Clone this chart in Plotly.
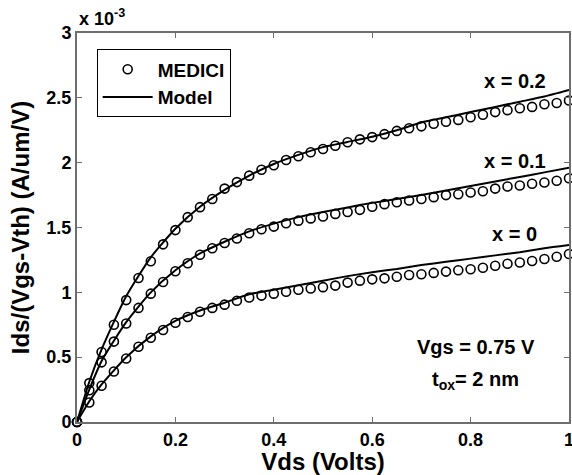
import plotly.graph_objects as go

# Drain voltage grid for MEDICI simulation points (V)
vds_medici = [i * 0.025 for i in range(41)]

# MEDICI simulation results, Ids/(Vgs-Vth) in units of 1e-3 A/um/V
medici_x02 = [0, 0.30, 0.54, 0.75, 0.94, 1.11, 1.24, 1.37, 1.48, 1.58, 1.657,
              1.72, 1.80, 1.85, 1.90, 1.945, 1.98, 2.02, 2.05, 2.08, 2.105,
              2.13, 2.157, 2.18, 2.197, 2.22, 2.245, 2.265, 2.28, 2.30, 2.315,
              2.33, 2.35, 2.37, 2.39, 2.405, 2.42, 2.43, 2.45, 2.46, 2.48]
medici_x01 = [0, 0.245, 0.46, 0.62, 0.76, 0.88, 0.99, 1.08, 1.163, 1.224, 1.29,
              1.34, 1.38, 1.415, 1.456, 1.487, 1.507, 1.533, 1.553, 1.57, 1.585,
              1.605, 1.62, 1.636, 1.66, 1.68, 1.695, 1.708, 1.72, 1.734, 1.75,
              1.757, 1.77, 1.78, 1.80, 1.816, 1.824, 1.837, 1.847, 1.86, 1.88]
medici_x00 = [0, 0.15, 0.28, 0.39, 0.49, 0.58, 0.65, 0.71, 0.765, 0.81, 0.85,
              0.88, 0.905, 0.935, 0.96, 0.975, 0.99, 1.005, 1.02, 1.03, 1.04,
              1.052, 1.075, 1.09, 1.10, 1.108, 1.12, 1.134, 1.14, 1.15, 1.16,
              1.17, 1.178, 1.19, 1.205, 1.22, 1.23, 1.242, 1.257, 1.275, 1.296]

# Model curves (V, 1e-3 A/um/V)
vds_model = [0, 0.025, 0.05, 0.1, 0.15, 0.2, 0.25, 0.3, 0.35, 0.4, 0.45, 0.5,
             0.55, 0.6, 0.65, 0.7, 0.75, 0.8, 0.85, 0.9, 0.95, 1.0]
model_x02 = [0, 0.31, 0.56, 0.97, 1.27, 1.49, 1.66, 1.79, 1.90, 1.99, 2.06, 2.12,
             2.16, 2.20, 2.25, 2.31, 2.35, 2.39, 2.43, 2.47, 2.51, 2.56]
model_x01 = [0, 0.25, 0.47, 0.77, 1.00, 1.17, 1.30, 1.39, 1.47, 1.53, 1.58, 1.62,
             1.655, 1.69, 1.72, 1.75, 1.785, 1.82, 1.855, 1.89, 1.925, 1.96]
model_x00 = [0, 0.16, 0.29, 0.50, 0.66, 0.78, 0.86, 0.92, 0.985, 1.02, 1.055, 1.09,
             1.125, 1.155, 1.18, 1.21, 1.235, 1.26, 1.285, 1.31, 1.34, 1.365]

curve_labels = ["x = 0.2", "x = 0.1", "x = 0"]
label_pos_y = [2.63, 2.01, 1.45]

FONT = "Liberation Sans, Arial, sans-serif"
AXIS_GREY = "#6e6e6e"

fig = go.Figure()

for i, (med, mod) in enumerate([(medici_x02, model_x02),
                                 (medici_x01, model_x01),
                                 (medici_x00, model_x00)]):
    fig.add_trace(go.Scatter(
        x=vds_medici, y=med, mode="markers",
        marker=dict(symbol="circle-open", size=9, color="black",
                    line=dict(width=1.6, color="black")),
        name="MEDICI", showlegend=(i == 0), legendrank=1,
        cliponaxis=False))
    fig.add_trace(go.Scatter(
        x=vds_model, y=mod, mode="lines",
        line=dict(color="black", width=2, shape="spline", smoothing=0.6),
        name="Model", showlegend=(i == 0), legendrank=2))

for lab, ly in zip(curve_labels, label_pos_y):
    fig.add_annotation(x=0.89, y=ly, text=lab, showarrow=False,
                       font=dict(family=FONT, size=20, color="black", weight="bold"),
                       xanchor="center", yanchor="middle")

fig.add_annotation(x=0.81, y=0.58, text="Vgs = 0.75 V", showarrow=False,
                   font=dict(family=FONT, size=20, color="black", weight="bold"),
                   xanchor="center", yanchor="middle")
fig.add_annotation(x=0.81, y=0.32, text="t<sub>ox</sub>= 2 nm", showarrow=False,
                   font=dict(family=FONT, size=20, color="black", weight="bold"),
                   xanchor="center", yanchor="middle")
fig.add_annotation(xref="paper", yref="paper", x=0.0, y=1.0,
                   text="x 10<sup>-3</sup>", showarrow=False,
                   font=dict(family=FONT, size=18, color="black", weight="bold"),
                   xanchor="left", yanchor="bottom", yshift=2)

axis_common = dict(showline=True, linecolor=AXIS_GREY, linewidth=2, mirror="ticks",
                   ticks="inside", ticklen=5, tickwidth=1.2, tickcolor=AXIS_GREY,
                   showgrid=False, zeroline=False, automargin=False,
                   ticklabeloverflow="allow",
                   tickfont=dict(family=FONT, size=18, color="black", weight="bold"))

fig.update_xaxes(range=[0, 1], dtick=0.2, tick0=0,
                 title=dict(text="Vds (Volts)", standoff=2,
                            font=dict(family=FONT, size=24, color="black", weight="bold")),
                 **axis_common)
fig.update_yaxes(range=[0, 3], dtick=0.5, tick0=0,
                 title=dict(text="Ids/(Vgs-Vth) (A/um/V)", standoff=10,
                            font=dict(family=FONT, size=24, color="black", weight="bold")),
                 **axis_common)

fig.update_layout(
    width=572, height=475,
    margin=dict(l=77, r=3, t=33, b=53),
    paper_bgcolor="white", plot_bgcolor="white",
    legend=dict(x=0.04, y=0.958, xanchor="left", yanchor="top",
                bgcolor="white", bordercolor="black", borderwidth=1,
                font=dict(family=FONT, size=19, color="black", weight="bold"),
                itemwidth=50, tracegroupgap=0),
    showlegend=True,
)

fig.write_html("out.html", config={"displayModeBar": False},
               post_script="document.body.style.margin='0';document.body.style.overflow='hidden';")
